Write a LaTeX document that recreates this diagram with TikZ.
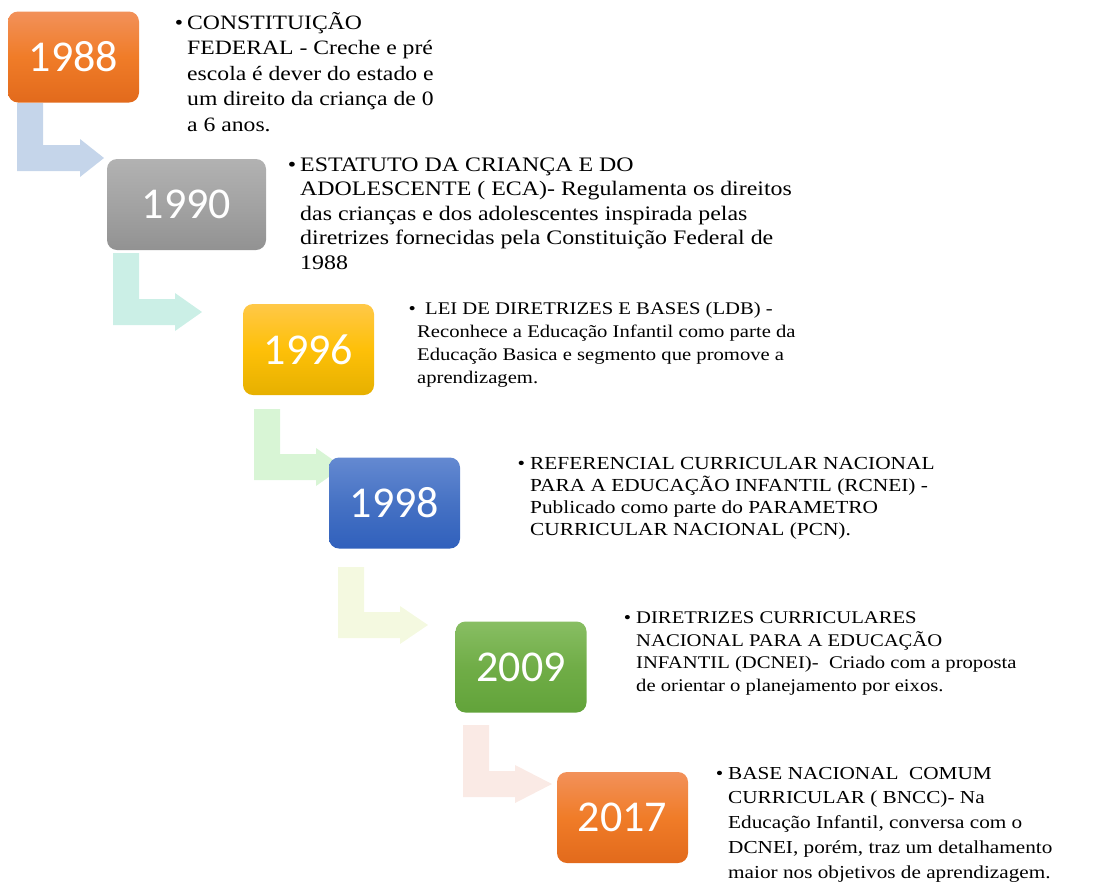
\documentclass[tikz,border=0pt]{standalone}
\usepackage{fontspec}
\setmainfont{Liberation Serif}[FakeStretch=1.16]
\newfontfamily\anofont{Carlito}

% cores das caixas
\definecolor{laranjaA}{RGB}{242,145,90}
\definecolor{laranjaB}{RGB}{240,124,40}
\definecolor{laranjaC}{RGB}{226,106,28}
\definecolor{cinzaA}{RGB}{178,178,178}
\definecolor{cinzaB}{RGB}{163,163,163}
\definecolor{cinzaC}{RGB}{146,146,146}
\definecolor{ouroA}{RGB}{255,200,72}
\definecolor{ouroB}{RGB}{254,192,8}
\definecolor{ouroC}{RGB}{230,176,0}
\definecolor{azulA}{RGB}{100,137,209}
\definecolor{azulB}{RGB}{70,114,196}
\definecolor{azulC}{RGB}{48,96,188}
\definecolor{verdeA}{RGB}{136,190,99}
\definecolor{verdeB}{RGB}{112,173,71}
\definecolor{verdeC}{RGB}{98,163,58}
% cores das setas
\definecolor{seta1}{RGB}{197,213,234}
\definecolor{seta2}{RGB}{203,239,230}
\definecolor{seta3}{RGB}{216,245,213}
\definecolor{seta4}{RGB}{244,249,224}
\definecolor{seta5}{RGB}{250,234,229}

\tikzset{
  ano/.style={rounded corners=10pt, minimum width=131pt, minimum height=91pt,
    inner sep=0pt, text=white, font=\anofont\fontsize{44}{44}\selectfont},
  marco/.style={anchor=base west, align=left, inner sep=0pt},
}

% seta em L: cor, x esquerdo, y topo, y barra, x base da ponta, x ponta
\newcommand{\setaL}[6]{%
  \fill[#1] (#2,#3) -- (#2+26,#3) -- (#2+26,#4) -- (#5,#4) -- (#5,#4-6)
    -- (#6,#4+13) -- (#5,#4+32) -- (#5,#4+26) -- (#2,#4+26) -- cycle;}

\begin{document}
\begin{tikzpicture}[x=1pt, y=-1pt]
\useasboundingbox (0,0) rectangle (1094,884);

			% Setas entre os anos
			\setaL{seta1}{17}{103}{145}{80}{104}
			\setaL{seta2}{113}{253}{299}{175}{202}
			\setaL{seta3}{254}{409}{454}{316}{343}
			\setaL{seta4}{338}{567}{612}{400}{428}
			\setaL{seta5}{463}{725}{771}{515}{552}

			% Caixas dos anos
			\node[ano, top color=laranjaA, bottom color=laranjaC, middle color=laranjaB] (b88) at (73.5,57) {1988};
			\node[ano, minimum width=159pt, top color=cinzaA, bottom color=cinzaC, middle color=cinzaB] (b90) at (186.5,204.5) {1990};
			\node[ano, top color=ouroA, bottom color=ouroC, middle color=ouroB] (b96) at (308.5,349.5) {1996};
			\node[ano, top color=azulA, bottom color=azulC, middle color=azulB] (b98) at (394.5,503) {1998};
			\node[ano, top color=verdeA, bottom color=verdeC, middle color=verdeB] (b09) at (521,667) {2009};
			\node[ano, top color=laranjaA, bottom color=laranjaC, middle color=laranjaB] (b17) at (622.5,817.5) {2017};

			% Textos (posicionados pela linha de base da ultima linha)
			\node[marco, font=\fontsize{20.4}{25.5}\selectfont] (t88) at (187,131) {\llap{\textbullet\hspace{4pt}}CONSTITUIÇÃO\\
				FEDERAL - Creche e pré\\ escola é dever do estado e\\ um direito da criança de 0\\ a 6 anos.};
			\node[marco, font=\fontsize{20.6}{24.5}\selectfont] (t90) at (300,269) {\llap{\textbullet\hspace{4pt}}ESTATUTO DA CRIANÇA E DO\\
				ADOLESCENTE ( ECA)- Regulamenta os direitos\\ das crianças e dos adolescentes inspirada pelas\\
				diretrizes fornecidas pela Constituição Federal de\\ 1988};
			\node[marco, font=\fontsize{17.8}{23}\selectfont] (t96) at (417,383) {\llap{\textbullet\hspace{1.4pt}}\hspace{8pt}LEI DE DIRETRIZES E BASES (LDB) -\\
				Reconhece a Educação Infantil como parte da\\ Educação Basica e segmento que promove a\\ aprendizagem.};
			\node[marco, font=\fontsize{18.4}{22}\selectfont] (t98) at (530,535) {\llap{\textbullet\hspace{5pt}}REFERENCIAL CURRICULAR NACIONAL\\
				PARA A EDUCAÇÃO INFANTIL (RCNEI) -\\ Publicado como parte do PARAMETRO\\ CURRICULAR NACIONAL (PCN).};
			\node[marco, font=\fontsize{17.8}{22.5}\selectfont] (t09) at (636,691) {\llap{\textbullet\hspace{5pt}}DIRETRIZES CURRICULARES\\
				NACIONAL PARA A EDUCAÇÃO\\ INFANTIL (DCNEI)-\ \ Criado com a proposta\\ de orientar o planejamento por eixos.};
			\node[marco, font=\fontsize{18.3}{24.75}\selectfont] (t17) at (728,878) {\llap{\textbullet\hspace{5pt}}BASE NACIONAL\ \ COMUM\\
				CURRICULAR ( BNCC)- Na\\ Educação Infantil, conversa com o\\ DCNEI, porém, traz um detalhamento\\ maior nos objetivos de aprendizagem.};

		\end{tikzpicture}
\end{document}
